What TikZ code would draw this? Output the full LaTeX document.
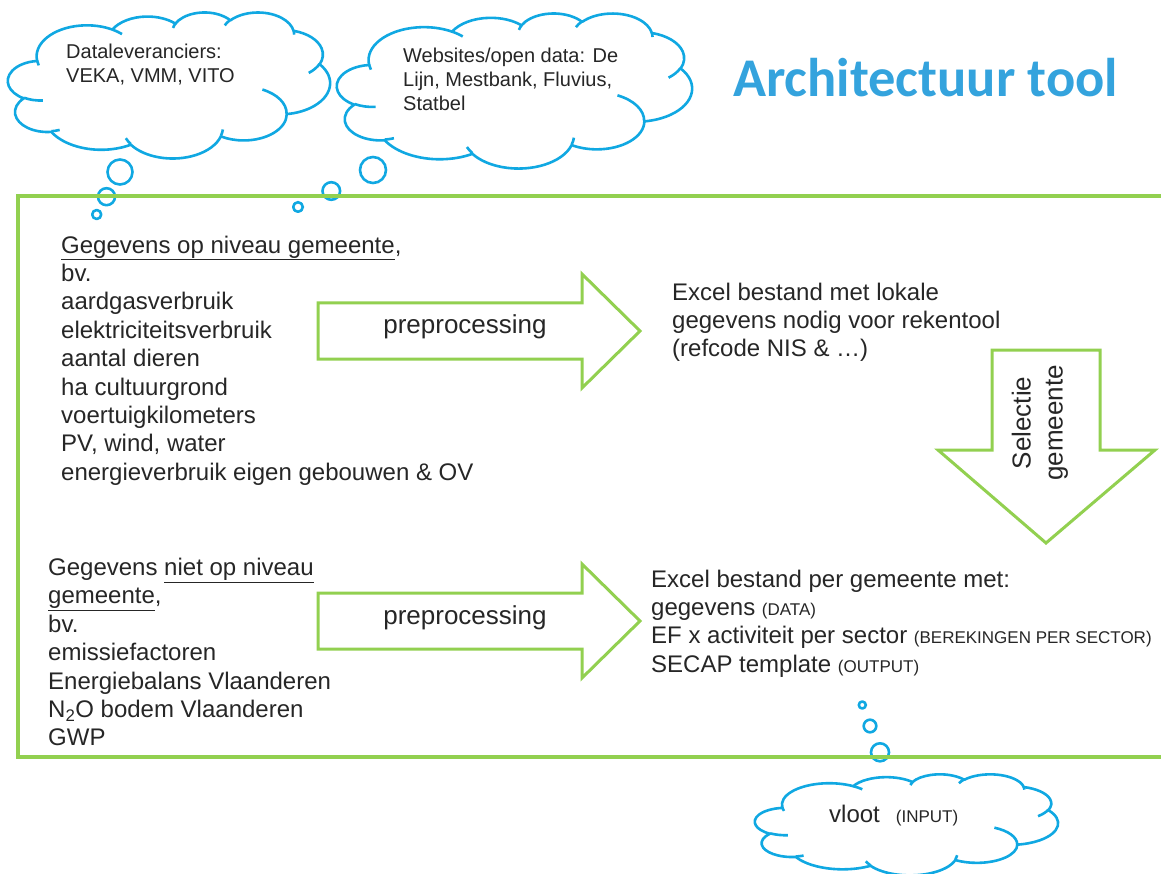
\documentclass[tikz,border=0pt]{standalone}
\usepackage{fontspec}
\setmainfont{Liberation Sans}
\newfontfamily\titlefont{Carlito}
\definecolor{frgreen}{RGB}{146,208,80}
\definecolor{cldblue}{RGB}{16,168,226}
\definecolor{ttlblue}{RGB}{52,163,221}
\definecolor{txt}{RGB}{38,38,38}
\newcommand\cldarc[4]{arc[start angle={atan2((#1)*sin(#3),(#2)*cos(#3))}, delta angle={mod(atan2((#1)*sin((#3)+(#4)),(#2)*cos((#3)+(#4)))-atan2((#1)*sin(#3),(#2)*cos(#3))+540,360)-180}, x radius=#1, y radius=#2]}
\newcommand\mycloud[5]{%
 \begin{scope}[shift={(#2,#3)}, xscale=#4, yscale=#5]
 \draw[cloudline, fill=white] (9.028,33.264)
   \cldarc{15.632}{21.273}{-190.4875}{123.7805}
   \cldarc{12.345}{16.822}{-144.1024}{89.9452}
   \cldarc{10.104}{13.762}{-145.8079}{99.7230}
   \cldarc{11.243}{15.266}{-130.9861}{117.2417}
   \cldarc{12.345}{16.836}{-78.7089}{109.0269}
   \cldarc{15.683}{21.343}{-46.2673}{130.2690}
   \cldarc{13.391}{18.211}{0.6250}{114.0333}
   \cldarc{15.630}{21.331}{22.4516}{115.1726}
   \cldarc{17.870}{24.405}{66.2426}{75.7110}
   \cldarc{10.093}{13.699}{-274.9421}{146.7356}
   \cldarc{10.058}{13.762}{-246.8285}{152.5189} -- cycle;
 \draw[cloudline]
   (10.863,60.595) \cldarc{10.058}{13.762}{86.7420}{26.4295}
   (16.037,80.785) \cldarc{10.093}{13.699}{73.6105}{11.4475}
   (38.144,90.486) \cldarc{15.630}{21.331}{137.6242}{14.0811}
   (66.729,80.442) \cldarc{15.630}{21.331}{6.4533}{15.9984}
   (79.002,53.134) \cldarc{13.391}{18.211}{-70.2924}{70.9174}
   (96.755,35.542) \cldarc{12.345}{16.836}{30.3180}{27.7515}
   (88.713,12.560) \cldarc{11.243}{15.266}{-13.7443}{14.8589}
   (67.310,9.148) \cldarc{11.243}{15.266}{-149.1815}{18.1954}
   (51.252,10.926) \cldarc{10.104}{13.762}{-163.4943}{17.6864}
   (32.407,12.019) \cldarc{15.632}{21.273}{-66.7070}{12.3194}
   (9.553,36.549) \cldarc{15.632}{21.273}{157.6544}{11.8582};
 \coordinate (#1) at (50,50);
 \end{scope}}
\newcommand\lbl[1]{{\fontsize{17}{20}\selectfont #1}}
\tikzset{
  cloudline/.style={draw=cldblue, line width=2.6pt, line join=round},
  frame/.style={draw=frgreen, line width=3.3pt},
  arrowline/.style={draw=frgreen, line width=3pt, fill=white, line join=miter},
  body/.style={text=txt, inner sep=0pt, font=\fontsize{24}{28.4}\selectfont, align=left},
  cldtext/.style={text=txt, inner sep=0pt, font=\fontsize{20}{24}\selectfont, align=left},
}
\begin{document}
\begin{tikzpicture}[x=1pt, y=-1pt]
\useasboundingbox (0,0) rectangle (1161,874);
% clouds
\mycloud{cloudA}{8}{12}{3.22}{1.46}
\mycloud{cloudB}{337}{13}{3.55}{1.55}
\mycloud{cloudC}{755}{774}{3.03}{1.01}
% thought bubbles
\draw[cloudline] (120,172) circle[radius=12.5];
\draw[cloudline] (106.5,196.7) circle[radius=8.5];
\draw[cloudline] (96.7,214.5) circle[radius=4.5];
\draw[cloudline] (373,170) circle[radius=13];
\draw[cloudline] (331.3,191) circle[radius=8.8];
\draw[cloudline] (298,207) circle[radius=4.8];
\draw[cloudline] (862.3,705) circle[radius=3.5];
\draw[cloudline] (870,726) circle[radius=6.3];
\draw[cloudline] (880,752.3) circle[radius=9];
% frame
\draw[frame] (1175,196) -- (18,196) -- (18,757) -- (1175,757);
% arrows
\draw[arrowline] (318,303) -- (582,303) -- (582,274) -- (640,331) -- (582,388) -- (582,359) -- (318,359) -- cycle;
\draw[arrowline] (318,593) -- (582,593) -- (582,564) -- (640,621) -- (582,678) -- (582,649) -- (318,649) -- cycle;
\draw[arrowline] (992,350) -- (1100,350) -- (1100,450) -- (1155,450) -- (1046,543) -- (938,450) -- (992,450) -- cycle;
% texts
\node[anchor=base west, inner sep=0pt, text=ttlblue, font=\titlefont\bfseries\fontsize{54.5}{60}\selectfont] (title) at (733,97) {Architectuur tool};
\node[cldtext, anchor=north west] (cldAtxt) at (66,43.5) {Dataleveranciers:\\VEKA, VMM, VITO};
\node[cldtext, anchor=north west] (cldBtxt) at (403,47.5) {Websites/open data: De\\Lijn, Mestbank, Fluvius,\\Statbel};
\node[body, anchor=north west] (lijstA) at (61,235.5) {\underline{Gegevens op niveau gemeente},\\bv.\\aardgasverbruik\\elektriciteitsverbruik\\aantal dieren\\ha cultuurgrond\\voertuigkilometers\\PV, wind, water\\energieverbruik eigen gebouwen \& OV};
\node[body, anchor=north west] (lijstB) at (48,558) {Gegevens \underline{niet op niveau}\\\underline{gemeente},\\bv.\\emissiefactoren\\Energiebalans Vlaanderen\\N\textsubscript{2}O bodem Vlaanderen\\GWP};
\node[body, anchor=base, font=\fontsize{26}{30}\selectfont] (pp1) at (465,334) {preprocessing};
\node[body, anchor=base, font=\fontsize{26}{30}\selectfont] (pp2) at (465,624) {preprocessing};
\node[body, anchor=north west] (excelA) at (672,282.5) {Excel bestand met lokale\\gegevens nodig voor rekentool\\(refcode NIS \& …)};
\node[body, anchor=north west] (excelB) at (651,569.5) {Excel bestand per gemeente met:\\gegevens \lbl{(DATA)}\\EF x activiteit per sector \lbl{(BEREKINGEN PER SECTOR)}\\SECAP template \lbl{(OUTPUT)}};
\node[body, rotate=90, align=center, font=\fontsize{26}{32}\selectfont] (selectie) at (1040,423) {Selectie\\gemeente};
\node[anchor=base west, inner sep=0pt, text=txt, font=\fontsize{24}{28}\selectfont] (vloot) at (829,822) {vloot\hspace{16pt}\lbl{(INPUT)}};
\end{tikzpicture}
\end{document}
